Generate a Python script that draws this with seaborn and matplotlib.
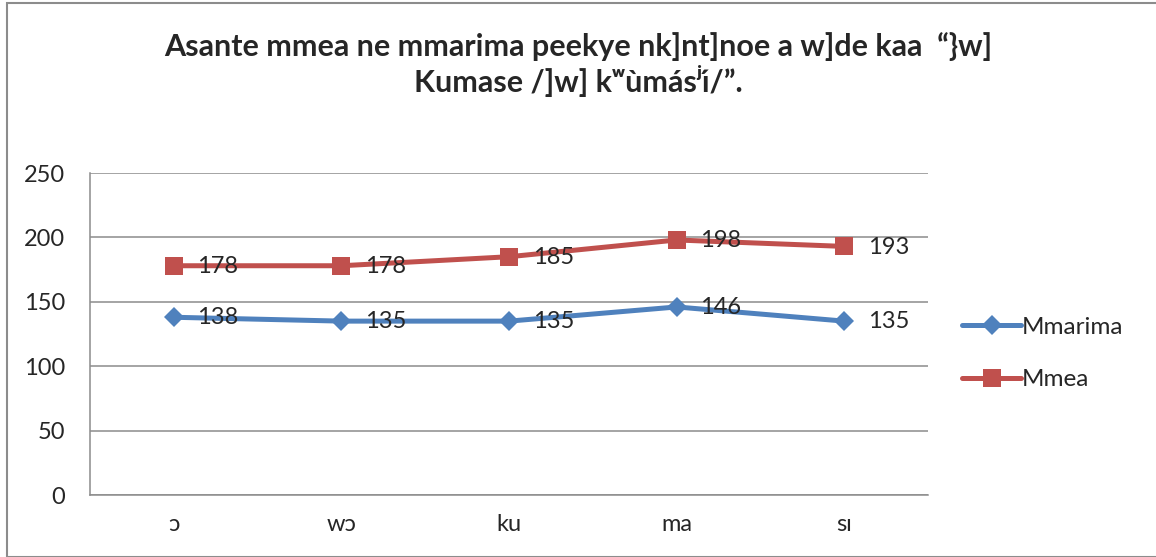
import pandas as pd
import matplotlib.pyplot as plt
import seaborn as sns
from matplotlib.patches import Rectangle

syllables = ["ɔ", "wɔ", "ku", "ma", "sɪ"]
mmarima = [138, 135, 135, 146, 135]
mmea = [178, 178, 185, 198, 193]
series_names = ["Mmarima", "Mmea"]
title = "Asante mmea ne mmarima peekye nk]nt]noe a w]de kaa  “}w]\nKumase /]w] kʷùmásʲɪ́/”."

df = pd.DataFrame({
    "syllable": syllables * 2,
    "value": mmarima + mmea,
    "series": [series_names[0]] * len(syllables) + [series_names[1]] * len(syllables),
})

sns.set_style("white")
plt.rcParams["font.family"] = ["Lato", "DejaVu Sans"]

colors = {"Mmarima": "#4F81BD", "Mmea": "#C0504D"}
markers = {"Mmarima": "D", "Mmea": "s"}

fig = plt.figure(figsize=(11.56, 5.57), dpi=100)
ax = fig.add_axes([0.0779, 0.1113, 0.7249, 0.5781])

for name in series_names:
    sub = df[df["series"] == name]
    sns.lineplot(data=sub, x="syllable", y="value", ax=ax, color=colors[name],
                 marker=markers[name], markersize=13.5 if name == "Mmea" else 10,
                 markeredgewidth=0, linewidth=3.6, label=name, sort=False)
    for i, v in enumerate(sub["value"]):
        ax.annotate(str(v), (i, v), xytext=(17, -0.5), textcoords="offset points",
                    fontsize=17, va="center", ha="left")

ax.set_ylim(0, 250)
ax.set_xlim(-0.5, 4.5)
ax.set_yticks(range(0, 251, 50))
ax.yaxis.grid(True, color="#8c8c8c", linewidth=1.1)
ax.set_axisbelow(True)
ax.set_xlabel("")
ax.set_ylabel("")
ax.tick_params(axis="both", length=0, labelsize=17)
ax.tick_params(axis="y", pad=18)
ax.tick_params(axis="x", pad=14)
for s in ["top", "right"]:
    ax.spines[s].set_visible(False)
for s in ["left", "bottom"]:
    ax.spines[s].set_color("#8c8c8c")
    ax.spines[s].set_linewidth(1.1)

ax.legend(loc="center left", bbox_to_anchor=(1.015, 0.44), frameon=False,
          fontsize=17.5, handlelength=2.4, labelspacing=1.3, handletextpad=0.05)

fig.text(0.5, 0.885, title, ha="center", va="center", fontsize=22,
         fontweight="bold", linespacing=1.15)

fig.patches.append(Rectangle((0.006, 0.0), 0.999, 0.995, transform=fig.transFigure,
                             fill=False, edgecolor="#8c8c8c", linewidth=1.5))

fig.savefig("out.png", dpi=100)
